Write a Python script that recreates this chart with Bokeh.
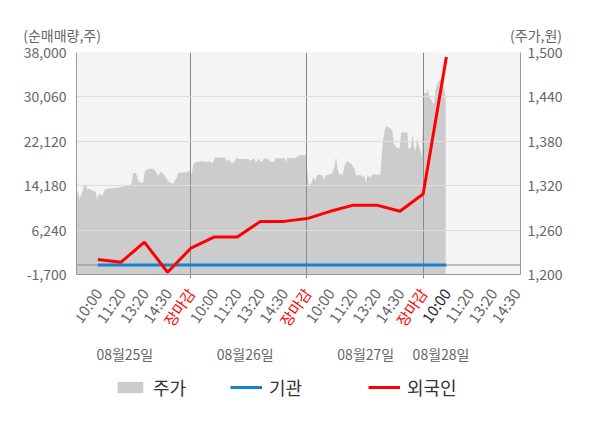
from bokeh.plotting import figure
from bokeh.layouts import column
from bokeh.models import (LinearAxis, Range1d, FixedTicker, NumeralTickFormatter,
                          Span, Legend, LegendItem, ColumnDataSource)
from bokeh.core.properties import value
from bokeh.embed import file_html
from bokeh.resources import INLINE

FONT = "Noto Sans CJK KR"
NAN = float("nan")

# ---------------- data ----------------
x_ticks = list(range(1, 20))
x_tick_labels = ["10:00", "11:20", "13:20", "14:30", "장마감",
                 "10:00", "11:20", "13:20", "14:30", "장마감",
                 "10:00", "11:20", "13:20", "14:30", "장마감",
                 "10:00", "11:20", "13:20", "14:30"]
close_label = "장마감"
current_tick = 16
day_separators = [5, 10, 15]
date_label_pos = [2.16, 7.34, 12.53, 15.77]
date_labels = ["08월25일", "08월26일", "08월27일", "08월28일"]

left_ticks = [-1700, 6240, 14180, 22120, 30060, 38000]
right_ticks = [1200, 1260, 1320, 1380, 1440, 1500]
left_unit = "(순매매량,주)"
right_unit = "(주가,원)"
series_names = ["주가", "기관", "외국인"]

flow_t = [1, 2, 3, 4, 5, 6, 7, 8, 9, 10, 11, 12, 13, 14, 15, 16]
foreign = [1000, 500, 4100, -1300, 3000, 5000, 5000, 7800, 7800, 8300,
           9600, 10700, 10700, 9600, 12700, 37200]
institution = [0, 0, 0, 0, 0, 0, 0, 0, 0, 0, 0, 0, 0, 0, 0, 0]

price_t = [0.00, 0.10, 0.15, 0.21, 0.29, 0.36, 0.40, 0.50, 0.53, 0.64, 0.71, 0.90, 0.96,
           1.05, 1.19, 1.31, 1.44, 1.94, 2.23, 2.44, 2.52, 2.64, 2.74, 2.81, 2.95, 3.02,
           3.16, 3.39, 3.53, 3.60, 3.70, 3.82, 3.96, 4.10, 4.25, 4.39, 4.47, 4.82, 4.90,
           5.00, 5.03, 5.12, 5.29, 5.43, 5.65, 5.80, 5.94, 6.04, 6.45, 6.56, 6.66, 6.77,
           6.87, 6.96, 7.10, 7.45, 7.57, 7.71, 7.81, 7.93, 8.03, 8.17, 8.36, 8.46, 8.58,
           8.63, 9.04, 9.09, 9.16, 9.26, 9.55, 9.69, 9.98,
           10.02, 10.09, 10.19, 10.28, 10.35, 10.43, 10.53, 10.67, 10.74, 10.82, 10.96,
           11.10, 11.17, 11.25, 11.32, 11.39, 11.53, 11.64, 11.73, 11.90, 12.04, 12.11,
           12.33, 12.40, 12.47, 12.54, 12.61, 12.73, 12.83, 13.16, 13.26, 13.37, 13.48,
           13.60, 13.67, 13.74, 13.85, 13.98, 14.06, 14.32, 14.37, 14.46, 14.51, 14.56,
           14.60, 14.68, 14.73, 14.80, 14.89, 14.95,
           15.03, 15.15, 15.20, 15.25, 15.32, 15.39, 15.47, 15.54, 15.61, 15.71, 15.80,
           15.86, 15.93, 15.97]
price_v = [1308, 1314, 1310, 1302, 1308, 1314, 1321, 1321, 1315, 1316, 1314, 1312, 1302,
           1309, 1306, 1315, 1316, 1318, 1320, 1322, 1337, 1337, 1327, 1324, 1324, 1340,
           1343, 1343, 1337, 1333, 1339, 1336, 1329, 1324, 1323, 1331, 1338, 1338, 1340,
           1339, 1335, 1350, 1352, 1353, 1352, 1353, 1350, 1358, 1358, 1353, 1355, 1350,
           1352, 1357, 1356, 1356, 1354, 1357, 1352, 1356, 1352, 1357, 1355, 1352, 1352,
           1357, 1357, 1352, 1358, 1357, 1358, 1361, 1361,
           1338, 1319, 1324, 1332, 1327, 1334, 1335, 1334, 1328, 1334, 1335,
           1337, 1344, 1359, 1342, 1335, 1335, 1349, 1353, 1350, 1343, 1334,
           1334, 1331, 1334, 1324, 1334, 1331, 1335, 1335, 1378, 1399, 1400,
           1397, 1394, 1376, 1372, 1370, 1392, 1392, 1370, 1371, 1382, 1390,
           1374, 1367, 1384, 1376, 1367, 1358,
           1446, 1445, 1451, 1442, 1438, 1433, 1430, 1449, 1458, 1462, 1465,
           1459, 1445, 1442]

# ---------------- styles ----------------
GRAY_TXT = "#666666"
AXIS_COL = "#999999"
AREA_COL = "#cccccc"
INST_COL = "#1382d0"
FOR_COL = "#ff0000"
W = 600
LEFT, RIGHT = 76, 80
FRAME_H = 222
MAIN_TOP, MAIN_BOT = 52, 10
BOT_H = 142
X0, X1 = 0.08, 19.19

# ---------------- main chart ----------------
p = figure(width=W, height=MAIN_TOP + FRAME_H + MAIN_BOT,
           x_range=Range1d(X0, X1), y_range=Range1d(left_ticks[0], left_ticks[-1]),
           output_backend="svg", toolbar_location=None,
           min_border_left=LEFT, min_border_right=RIGHT,
           min_border_top=MAIN_TOP, min_border_bottom=MAIN_BOT,
           background_fill_color="#f4f4f4", border_fill_color="white",
           outline_line_color=None)
p.extra_y_ranges = {"price": Range1d(right_ticks[0], right_ticks[-1])}

# unit captions: one title line, left caption over the left axis, right caption
# over the right axis (full-width spaces keep them apart)
p.title.text = left_unit + "\u3000" * 29 + "\u00a0" + right_unit
p.title.align = "left"
p.title.offset = -53.3
p.title.standoff = 15
p.title.text_font = FONT
p.title.text_font_size = "14px"
p.title.text_font_style = "normal"
p.title.text_color = GRAY_TXT

p.varea(x=price_t, y1=right_ticks[0], y2=price_v, y_range_name="price",
        fill_color=AREA_COL, level="underlay")
p.add_layout(Span(location=0, dimension="width", line_color="#888888", line_width=1,
                  level="underlay"))
p.line(flow_t, institution, line_color=INST_COL, line_width=3)
p.line(flow_t, foreign, line_color=FOR_COL, line_width=3)

p.ygrid.ticker = FixedTicker(ticks=left_ticks)
p.ygrid.grid_line_color = "#dddddd"
p.xgrid.ticker = FixedTicker(ticks=day_separators)
p.xgrid.grid_line_color = "#888888"

ya = p.yaxis[0]
ya.ticker = FixedTicker(ticks=left_ticks)
ya.formatter = NumeralTickFormatter(format="0,0")
ra = LinearAxis(y_range_name="price", ticker=FixedTicker(ticks=right_ticks),
                formatter=NumeralTickFormatter(format="0,0"))
p.add_layout(ra, "right")
for ax, st in [(ya, 10), (ra, 7)]:
    ax.axis_line_color = AXIS_COL
    ax.major_tick_line_color = None
    ax.minor_tick_line_color = None
    ax.major_tick_out = 0
    ax.major_tick_in = 0
    ax.major_label_standoff = st
    ax.major_label_text_color = GRAY_TXT
    ax.major_label_text_font = FONT
    ax.major_label_text_font_size = "14px"

xa = p.xaxis[0]
xa.ticker = FixedTicker(ticks=[], minor_ticks=day_separators)
xa.major_label_standoff = 0
xa.major_tick_line_color = None
xa.major_tick_out = 0
xa.major_tick_in = 0
xa.minor_tick_line_color = "#888888"
xa.minor_tick_out = 4
xa.minor_tick_in = 0
xa.axis_line_color = AXIS_COL

# ---------------- bottom strip: time labels, dates, legend ----------------
bot = figure(width=W, height=BOT_H, x_range=p.x_range, y_range=Range1d(BOT_H, 0),
             x_axis_type=None, y_axis_type=None, output_backend="svg",
             toolbar_location=None, min_border=0, outline_line_color=None,
             background_fill_color="white", border_fill_color="white")

tick_colors = [FOR_COL if lab == close_label else ("#222222" if t == current_tick else GRAY_TXT)
               for t, lab in zip(x_ticks, x_tick_labels)]
tsrc = ColumnDataSource(dict(x=x_ticks, y=[5.5] * len(x_ticks), t=x_tick_labels, c=tick_colors))
bot.text(x="x", y="y", text="t", text_color="c", source=tsrc, angle=0.96,
         text_align="right", text_baseline="middle",
         text_font=value(FONT), text_font_size=value("15px"))

dsrc = ColumnDataSource(dict(x=date_label_pos, y=[69] * len(date_labels), t=date_labels))
bot.text(x="x", y="y", text="t", source=dsrc, text_color=GRAY_TXT,
         text_align="center", text_baseline="middle",
         text_font=value(FONT), text_font_size=value("14px"))

# legend keys (renderers carrying no visible data, only the series styles)
key_area = bot.varea(x=[NAN], y1=[NAN], y2=[NAN], fill_color=AREA_COL)
key_inst = bot.line(x=[NAN], y=[NAN], line_color=INST_COL, line_width=3)
key_for = bot.line(x=[NAN], y=[NAN], line_color=FOR_COL, line_width=3)
for name, rend, xpos in zip(series_names, [key_area, key_inst, key_for], [38, 154, 292]):
    lg = Legend(items=[LegendItem(label=name, renderers=[rend])],
                location=(xpos, 26), orientation="horizontal",
                glyph_width=32, glyph_height=14, label_standoff=7,
                padding=0, margin=0, border_line_color=None, background_fill_alpha=0,
                label_text_font=FONT, label_text_font_size="18px",
                label_text_color="#333333")
    bot.add_layout(lg)

layout = column(p, bot, spacing=0)
open("out.html", "w").write(file_html(layout, INLINE))
